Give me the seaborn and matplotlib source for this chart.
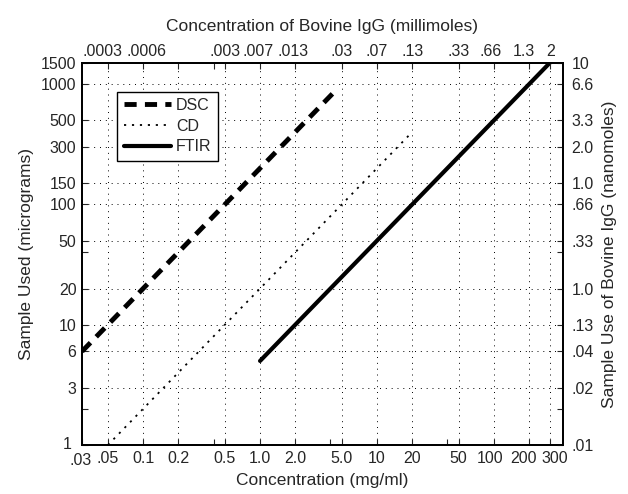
import matplotlib
matplotlib.use("Agg")
import matplotlib.pyplot as plt
import matplotlib.ticker as mticker
import matplotlib.transforms as mtransforms
import seaborn as sns
import pandas as pd

# ---- data ----
dsc_conc = [0.03, 4.3]          # mg/ml
dsc_sample = [6, 860]           # micrograms
cd_conc = [0.05, 19]
cd_sample = [1, 380]
ftir_conc = [1.0, 300]
ftir_sample = [5, 1500]

x_ticks = [0.03, 0.05, 0.1, 0.2, 0.5, 1, 2, 5, 10, 20, 50, 100, 200, 300]
x_labels = ['.03', '.05', '0.1', '0.2', '0.5', '1.0', '2.0', '5.0', '10', '20', '50', '100', '200', '300']
x_minor = [0.4, 4, 40]
top_ticks = [0.05, 0.1, 0.2, 0.4, 0.5, 1, 2, 5, 10, 20, 50, 100, 200, 300]
top_labels = ['.0003', '.0006', '', '', '.003', '.007', '.013', '.03', '.07', '.13', '.33', '.66', '1.3', '2']
y_ticks = [1, 3, 6, 10, 20, 50, 100, 150, 300, 500, 1000, 1500]
y_labels = ['1', '3', '6', '10', '20', '50', '100', '150', '300', '500', '1000', '1500']
y_minor = [2, 40]
right_labels = ['.01', '.02', '.04', '.13', '1.0', '.33', '.66', '1.0', '2.0', '3.3', '6.6', '10']

sns.set_style("ticks")
plt.rcParams['font.family'] = ['Liberation Sans', 'DejaVu Sans']

fig, ax = plt.subplots(figsize=(6.28, 4.94), dpi=100)
fig.subplots_adjust(left=82/628, right=563/628, bottom=1-445/494, top=1-63/494)

df_dsc = pd.DataFrame({'c': dsc_conc, 's': dsc_sample})
df_cd = pd.DataFrame({'c': cd_conc, 's': cd_sample})
df_ftir = pd.DataFrame({'c': ftir_conc, 's': ftir_sample})

sns.lineplot(data=df_dsc, x='c', y='s', ax=ax, color='black', linewidth=3.5,
             linestyle=(0, (2.5, 1.7)), label='DSC', dash_capstyle='butt')
sns.lineplot(data=df_cd, x='c', y='s', ax=ax, color='black', linewidth=1.3,
             linestyle=(0, (1.2, 3.2)), label='CD')
sns.lineplot(data=df_ftir, x='c', y='s', ax=ax, color='black', linewidth=3.0,
             linestyle='-', label='FTIR')

ax.set_xscale('log')
ax.set_yscale('log')
ax.set_xlim(0.03, 390)
ax.set_ylim(1, 1500)

fs = 11.5
lfs = 12.5
ax.xaxis.set_major_locator(mticker.FixedLocator(x_ticks))
ax.xaxis.set_major_formatter(mticker.FixedFormatter(x_labels))
ax.xaxis.set_minor_locator(mticker.FixedLocator(x_minor))
ax.xaxis.set_minor_formatter(mticker.NullFormatter())
ax.yaxis.set_major_locator(mticker.FixedLocator(y_ticks))
ax.yaxis.set_major_formatter(mticker.FixedFormatter(y_labels))
ax.yaxis.set_minor_locator(mticker.FixedLocator(y_minor))
ax.yaxis.set_minor_formatter(mticker.NullFormatter())

ax.grid(True, which='major', color='black', linestyle=(0, (1, 5)), linewidth=0.7)
ax.grid(False, which='minor')
ax.tick_params(which='both', direction='in', length=4, width=0.8, labelsize=fs)
ax.tick_params(axis='x', pad=4)
ax.tick_params(axis='y', pad=4)

ax.set_xlabel('Concentration (mg/ml)', fontsize=lfs, labelpad=4)
ax.set_ylabel('Sample Used (micrograms)', fontsize=lfs, labelpad=5)

# top axis
axt = ax.twiny()
axt.set_xscale('log')
axt.set_xlim(ax.get_xlim())
axt.xaxis.set_major_locator(mticker.FixedLocator(top_ticks))
axt.xaxis.set_major_formatter(mticker.FixedFormatter(top_labels))
axt.xaxis.set_minor_locator(mticker.NullLocator())
axt.tick_params(which='both', direction='in', length=4, width=0.8, labelsize=fs, pad=3)
axt.set_xlabel('Concentration of Bovine IgG (millimoles)', fontsize=lfs, labelpad=9)

# right axis
axr = ax.twinx()
axr.set_yscale('log')
axr.set_ylim(ax.get_ylim())
axr.yaxis.set_major_locator(mticker.FixedLocator(y_ticks))
axr.yaxis.set_major_formatter(mticker.FixedFormatter(right_labels))
axr.yaxis.set_minor_locator(mticker.FixedLocator(y_minor))
axr.yaxis.set_minor_formatter(mticker.NullFormatter())
axr.tick_params(which='both', direction='in', length=4, width=0.8, labelsize=fs, pad=6)
axr.set_ylabel('Sample Use of Bovine IgG (nanomoles)', fontsize=lfs, labelpad=6)

for a in (ax, axt, axr):
    for sp in a.spines.values():
        sp.set_visible(True)
        sp.set_linewidth(1.2)
        sp.set_color('black')

# nudge crowded tick labels (as in the reference)
def nudge(labels, shifts, dy=None):
    dy = dy or [0] * len(shifts)
    for lab, dx, d in zip(labels, shifts, dy):
        if dx or d:
            lab.set_transform(lab.get_transform() +
                              mtransforms.ScaledTranslation(dx / 100, d / 100, fig.dpi_scale_trans))

fig.canvas.draw()
bl = ax.get_xticklabels()
nudge(bl, [-1, 0, 0, 0, 0, 0, 0, 0, 0, 0, 0, -4, -6, 5], [-2] + [0] * 13)
tl = axt.get_xticklabels()
nudge(tl, [-5, 3, 0, 0, 0, -2, -2, 0, 0, 0, 0, -3, -5, 1])
yl = ax.get_yticklabels()
nudge(yl, [-5] + [0] * 11, [2] + [0] * 11)

leg = ax.legend(loc='upper left', bbox_to_anchor=(0.073, 0.925), fancybox=False,
                edgecolor='black', framealpha=1, fontsize=fs, handlelength=3.0,
                borderpad=0.4, labelspacing=0.35, handletextpad=0.3, borderaxespad=0)
leg.get_frame().set_linewidth(1.0)

fig.savefig('out.png', dpi=100)
